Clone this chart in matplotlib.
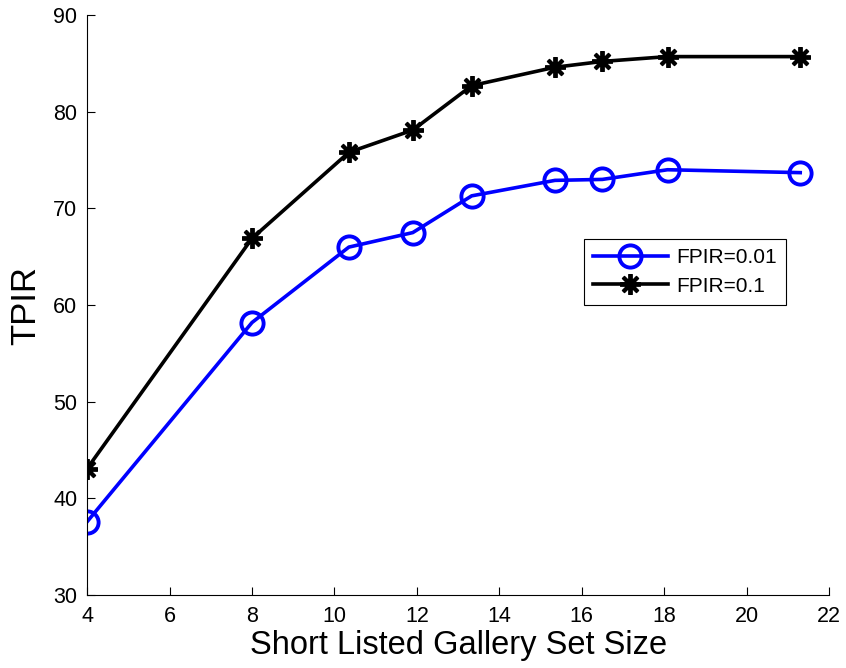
import matplotlib
matplotlib.use("Agg")
from matplotlib import pyplot as plt

# Short-listed gallery sizes and identification rates
gallery_size = [4, 8, 10.35, 11.9, 13.33, 15.35, 16.5, 18.08, 21.3]
tpir_fpir_001 = [37.6, 58.2, 66.0, 67.5, 71.3, 72.9, 73.0, 74.0, 73.7]
tpir_fpir_01 = [43.1, 66.9, 75.8, 78.1, 82.7, 84.6, 85.2, 85.7, 85.7]
x_ticks = [4, 6, 8, 10, 12, 14, 16, 18, 20, 22]
y_ticks = [30, 40, 50, 60, 70, 80, 90]

plt.rcParams["font.family"] = ["Liberation Sans", "DejaVu Sans"]


def main():
    fig = plt.figure(figsize=(8.46, 6.68), dpi=100)
    ax = fig.add_axes([0.103, 0.109, 0.877, 0.8685])

    ax.plot(gallery_size, tpir_fpir_001, color="#0000ff", lw=2.6,
            marker="o", ms=16, mfc="none", mew=2.8, label="FPIR=0.01")
    ax.plot(gallery_size, tpir_fpir_01, color="black", lw=2.6,
            marker=(8, 2, 0), ms=15, mew=2.8, label="FPIR=0.1")

    ax.set_xlim(4, 22)
    ax.set_ylim(30, 90)
    ax.set_xticks(x_ticks)
    ax.set_yticks(y_ticks)
    ax.tick_params(direction="in", length=6, width=0.8, labelsize=15.5,
                   top=False, right=False)
    ax.tick_params(axis="x", pad=8)
    ax.tick_params(axis="y", pad=7)
    ax.spines["top"].set_visible(False)
    ax.spines["right"].set_visible(False)
    ax.set_xlabel("Short Listed Gallery Set Size", fontsize=23.5, labelpad=2)
    ax.set_ylabel("TPIR", fontsize=25, labelpad=8)

    leg = ax.legend(loc="upper left", bbox_to_anchor=(0.655, 0.632),
                    fontsize=15, fancybox=False, framealpha=1,
                    edgecolor="black", borderpad=0.45, handlelength=3.6,
                    handletextpad=0.4, labelspacing=0.45)
    leg.get_frame().set_linewidth(0.8)
    return fig


if __name__ == "__main__":
    fig = main()
    fig.savefig("out.png", dpi=100)
